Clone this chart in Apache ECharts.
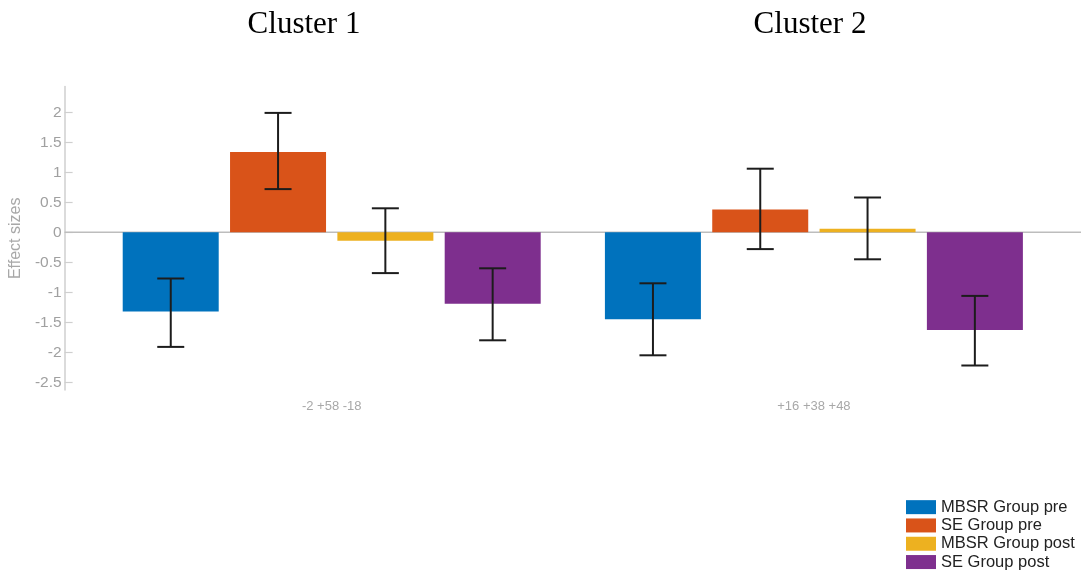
<!DOCTYPE html>
<html>
<head>
<meta charset="utf-8">
<script src="https://cdn.jsdelivr.net/npm/echarts@6/dist/echarts.min.js"></script>
<style>
html,body{margin:0;padding:0;background:#fff;}
#chart{width:1081px;height:577px;}
</style>
</head>
<body>
<div id="chart"></div>
<script>
// ---- Data ----
const categories = ['-2 +58 -18', '+16 +38 +48'];
const clusterTitles = ['Cluster 1', 'Cluster 2'];
const seriesNames = ['MBSR Group pre', 'SE Group pre', 'MBSR Group post', 'SE Group post'];
const mbsrPre      = [-1.32, -1.45];
const mbsrPreLow   = [-1.91, -2.05];
const mbsrPreHigh  = [-0.77, -0.85];
const sePre        = [1.34, 0.38];
const sePreLow     = [0.72, -0.28];
const sePreHigh    = [1.99, 1.06];
const mbsrPost     = [-0.14, 0.06];
const mbsrPostLow  = [-0.68, -0.45];
const mbsrPostHigh = [0.40, 0.58];
const sePost       = [-1.19, -1.63];
const sePostLow    = [-1.80, -2.22];
const sePostHigh   = [-0.60, -1.06];
const yTickValues  = [-2.5, -2, -1.5, -1, -0.5, 0, 0.5, 1, 1.5, 2];
const yRange       = [-2.63, 2.43];

// ---- Styling / layout ----
const colors = ['#0072BD', '#D95319', '#EDB120', '#7E2F8E'];
const means = [mbsrPre, sePre, mbsrPost, sePost];
const lows = [mbsrPreLow, sePreLow, mbsrPostLow, sePostLow];
const highs = [mbsrPreHigh, sePreHigh, mbsrPostHigh, sePostHigh];
const BAR_W = 96, BAR_STEP = 107.3, CAP_W = 27, AXIS_OFFSET = 26;

const chart = echarts.init(document.getElementById('chart'), null, { renderer: 'canvas' });

const series = [];
// zero line spanning from y axis to right edge
series.push({
  type: 'custom',
  name: 'zero',
  silent: true,
  z: 1,
  data: [[0, 0]],
  renderItem: function (params, api) {
    const cs = params.coordSys;
    const y = api.coord([0, 0])[1];
    return {
      type: 'line',
      shape: { x1: cs.x - AXIS_OFFSET, y1: y, x2: cs.x + cs.width + AXIS_OFFSET, y2: y },
      style: { stroke: '#bdbdbd', lineWidth: 1.5 }
    };
  }
});
seriesNames.forEach(function (name, k) {
  series.push({
    type: 'bar',
    name: name,
    data: means[k],
    barWidth: BAR_W,
    barGap: ((BAR_STEP - BAR_W) / BAR_W * 100).toFixed(1) + '%',
    itemStyle: { color: colors[k] },
    z: 2
  });
});
seriesNames.forEach(function (name, k) {
  series.push({
    type: 'custom',
    name: name + ' error',
    z: 5,
    silent: true,
    data: categories.map(function (c, i) { return [i, lows[k][i], highs[k][i]]; }),
    encode: { x: 0, y: [1, 2] },
    renderItem: function (params, api) {
      const lo = api.coord([api.value(0), api.value(1)]);
      const hi = api.coord([api.value(0), api.value(2)]);
      const x = lo[0] + (k - 1.5) * BAR_STEP;
      const st = { stroke: '#1c1c1c', lineWidth: 2 };
      return {
        type: 'group',
        children: [
          { type: 'line', shape: { x1: x, y1: hi[1], x2: x, y2: lo[1] }, style: st },
          { type: 'line', shape: { x1: x - CAP_W / 2, y1: hi[1], x2: x + CAP_W / 2, y2: hi[1] }, style: st },
          { type: 'line', shape: { x1: x - CAP_W / 2, y1: lo[1], x2: x + CAP_W / 2, y2: lo[1] }, style: st }
        ]
      };
    }
  });
});

const option = {
  backgroundColor: '#ffffff',
  animation: false,
  textStyle: { fontFamily: 'Liberation Sans, Arial, sans-serif' },
  graphic: clusterTitles.map(function (t, i) {
    return {
      type: 'text',
      x: [304, 810][i],
      y: 25,
      style: {
        text: t,
        font: '31px "Liberation Serif", "Times New Roman", serif',
        fill: '#000',
        textAlign: 'center',
        textVerticalAlign: 'middle'
      }
    };
  }),
  grid: { left: 89, right: 26, top: 86.5, bottom: 186.9, containLabel: false },
  legend: {
    data: seriesNames,
    orient: 'vertical',
    left: 906,
    top: 498,
    padding: 0,
    itemGap: 0,
    itemWidth: 30,
    itemHeight: 14,
    icon: 'rect',
    textStyle: { fontSize: 16.5, color: '#222', lineHeight: 18.3, fontFamily: 'Liberation Sans, Arial, sans-serif' }
  },
  xAxis: {
    type: 'category',
    data: categories,
    axisLine: { show: false },
    axisTick: { show: false },
    axisLabel: { color: '#a8a8a8', fontSize: 13, margin: 9.5 },
    splitLine: { show: false }
  },
  yAxis: {
    type: 'value',
    min: yRange[0],
    max: yRange[1],
    offset: AXIS_OFFSET,
    name: 'Effect sizes',
    nameLocation: 'middle',
    nameGap: 32,
    nameTextStyle: { color: '#a8a8a8', fontSize: 16 },
    axisLine: { show: true, lineStyle: { color: '#cfcfcf', width: 1.5 } },
    axisTick: { show: true, inside: true, length: 8, customValues: yTickValues, lineStyle: { color: '#cfcfcf', width: 1.2 } },
    axisLabel: { color: '#a0a0a0', fontSize: 15.5, margin: 3, customValues: yTickValues },
    splitLine: { show: false }
  },
  series: series
};
chart.setOption(option);
</script>
</body>
</html>
